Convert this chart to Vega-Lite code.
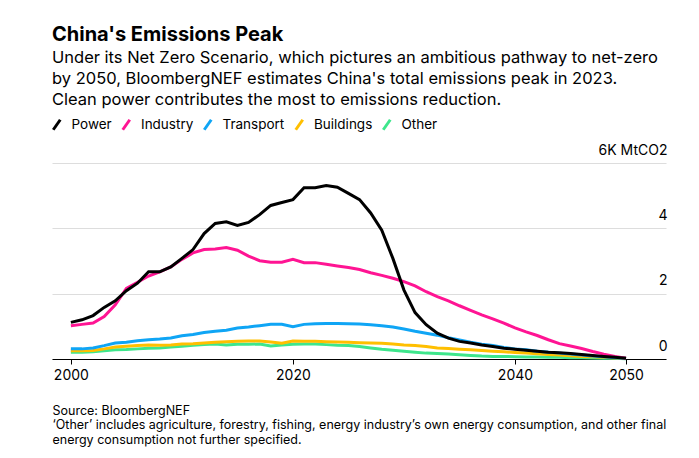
{
  "$schema": "https://vega.github.io/schema/vega-lite/v6.json",
  "width": 614,
  "height": 196,
  "autosize": {"type": "none"},
  "padding": {"left": 52, "top": 163, "right": 33, "bottom": 99},
  "background": "white",
  "config": {
    "font": "Inter",
    "view": {"stroke": null}
  },
  "title": {
    "text": "China's Emissions Peak",
    "subtitle": [
      "Under its Net Zero Scenario, which pictures an ambitious pathway to net-zero",
      "by 2050, BloombergNEF estimates China's total emissions peak in 2023.",
      "Clean power contributes the most to emissions reduction."
    ],
    "anchor": "start",
    "frame": "group",
    "fontSize": 20,
    "fontWeight": "bold",
    "color": "#000",
    "subtitleFontSize": 16.5,
    "subtitleColor": "#000",
    "subtitleLineHeight": 21,
    "subtitlePadding": 5,
    "offset": 10
  },
  "data": {
    "values": [
      {"sector":"Other","year":2000,"value":0.21},{"sector":"Other","year":2001,"value":0.21},{"sector":"Other","year":2002,"value":0.22},{"sector":"Other","year":2003,"value":0.25},{"sector":"Other","year":2004,"value":0.28},{"sector":"Other","year":2005,"value":0.29},{"sector":"Other","year":2006,"value":0.31},{"sector":"Other","year":2007,"value":0.33},{"sector":"Other","year":2008,"value":0.34},{"sector":"Other","year":2009,"value":0.37},{"sector":"Other","year":2010,"value":0.39},{"sector":"Other","year":2011,"value":0.42},{"sector":"Other","year":2012,"value":0.44},{"sector":"Other","year":2013,"value":0.46},{"sector":"Other","year":2014,"value":0.43},{"sector":"Other","year":2015,"value":0.45},{"sector":"Other","year":2016,"value":0.45},{"sector":"Other","year":2017,"value":0.46},{"sector":"Other","year":2018,"value":0.40},{"sector":"Other","year":2019,"value":0.43},{"sector":"Other","year":2020,"value":0.45},{"sector":"Other","year":2021,"value":0.46},{"sector":"Other","year":2022,"value":0.46},{"sector":"Other","year":2023,"value":0.44},{"sector":"Other","year":2024,"value":0.42},{"sector":"Other","year":2025,"value":0.41},{"sector":"Other","year":2026,"value":0.38},{"sector":"Other","year":2027,"value":0.34},{"sector":"Other","year":2028,"value":0.30},{"sector":"Other","year":2029,"value":0.27},{"sector":"Other","year":2030,"value":0.24},{"sector":"Other","year":2031,"value":0.21},{"sector":"Other","year":2032,"value":0.18},{"sector":"Other","year":2033,"value":0.17},{"sector":"Other","year":2034,"value":0.15},{"sector":"Other","year":2035,"value":0.13},{"sector":"Other","year":2036,"value":0.11},{"sector":"Other","year":2037,"value":0.09},{"sector":"Other","year":2038,"value":0.08},{"sector":"Other","year":2039,"value":0.08},{"sector":"Other","year":2040,"value":0.07},{"sector":"Other","year":2041,"value":0.06},{"sector":"Other","year":2042,"value":0.06},{"sector":"Other","year":2043,"value":0.05},{"sector":"Other","year":2044,"value":0.05},{"sector":"Other","year":2045,"value":0.04},{"sector":"Other","year":2046,"value":0.04},{"sector":"Other","year":2047,"value":0.03},{"sector":"Other","year":2048,"value":0.02},{"sector":"Other","year":2049,"value":0.02},{"sector":"Other","year":2050,"value":0.01},
      {"sector":"Buildings","year":2000,"value":0.25},{"sector":"Buildings","year":2001,"value":0.25},{"sector":"Buildings","year":2002,"value":0.26},{"sector":"Buildings","year":2003,"value":0.31},{"sector":"Buildings","year":2004,"value":0.37},{"sector":"Buildings","year":2005,"value":0.39},{"sector":"Buildings","year":2006,"value":0.41},{"sector":"Buildings","year":2007,"value":0.43},{"sector":"Buildings","year":2008,"value":0.42},{"sector":"Buildings","year":2009,"value":0.43},{"sector":"Buildings","year":2010,"value":0.46},{"sector":"Buildings","year":2011,"value":0.47},{"sector":"Buildings","year":2012,"value":0.49},{"sector":"Buildings","year":2013,"value":0.51},{"sector":"Buildings","year":2014,"value":0.53},{"sector":"Buildings","year":2015,"value":0.54},{"sector":"Buildings","year":2016,"value":0.55},{"sector":"Buildings","year":2017,"value":0.55},{"sector":"Buildings","year":2018,"value":0.52},{"sector":"Buildings","year":2019,"value":0.48},{"sector":"Buildings","year":2020,"value":0.55},{"sector":"Buildings","year":2021,"value":0.54},{"sector":"Buildings","year":2022,"value":0.54},{"sector":"Buildings","year":2023,"value":0.53},{"sector":"Buildings","year":2024,"value":0.52},{"sector":"Buildings","year":2025,"value":0.51},{"sector":"Buildings","year":2026,"value":0.50},{"sector":"Buildings","year":2027,"value":0.49},{"sector":"Buildings","year":2028,"value":0.48},{"sector":"Buildings","year":2029,"value":0.46},{"sector":"Buildings","year":2030,"value":0.43},{"sector":"Buildings","year":2031,"value":0.41},{"sector":"Buildings","year":2032,"value":0.38},{"sector":"Buildings","year":2033,"value":0.34},{"sector":"Buildings","year":2034,"value":0.32},{"sector":"Buildings","year":2035,"value":0.30},{"sector":"Buildings","year":2036,"value":0.28},{"sector":"Buildings","year":2037,"value":0.26},{"sector":"Buildings","year":2038,"value":0.24},{"sector":"Buildings","year":2039,"value":0.22},{"sector":"Buildings","year":2040,"value":0.20},{"sector":"Buildings","year":2041,"value":0.18},{"sector":"Buildings","year":2042,"value":0.16},{"sector":"Buildings","year":2043,"value":0.14},{"sector":"Buildings","year":2044,"value":0.12},{"sector":"Buildings","year":2045,"value":0.10},{"sector":"Buildings","year":2046,"value":0.08},{"sector":"Buildings","year":2047,"value":0.07},{"sector":"Buildings","year":2048,"value":0.05},{"sector":"Buildings","year":2049,"value":0.03},{"sector":"Buildings","year":2050,"value":0.02},
      {"sector":"Transport","year":2000,"value":0.31},{"sector":"Transport","year":2001,"value":0.31},{"sector":"Transport","year":2002,"value":0.34},{"sector":"Transport","year":2003,"value":0.41},{"sector":"Transport","year":2004,"value":0.49},{"sector":"Transport","year":2005,"value":0.51},{"sector":"Transport","year":2006,"value":0.56},{"sector":"Transport","year":2007,"value":0.59},{"sector":"Transport","year":2008,"value":0.61},{"sector":"Transport","year":2009,"value":0.64},{"sector":"Transport","year":2010,"value":0.71},{"sector":"Transport","year":2011,"value":0.75},{"sector":"Transport","year":2012,"value":0.81},{"sector":"Transport","year":2013,"value":0.85},{"sector":"Transport","year":2014,"value":0.88},{"sector":"Transport","year":2015,"value":0.95},{"sector":"Transport","year":2016,"value":0.98},{"sector":"Transport","year":2017,"value":1.02},{"sector":"Transport","year":2018,"value":1.06},{"sector":"Transport","year":2019,"value":1.06},{"sector":"Transport","year":2020,"value":0.99},{"sector":"Transport","year":2021,"value":1.06},{"sector":"Transport","year":2022,"value":1.08},{"sector":"Transport","year":2023,"value":1.09},{"sector":"Transport","year":2024,"value":1.09},{"sector":"Transport","year":2025,"value":1.08},{"sector":"Transport","year":2026,"value":1.07},{"sector":"Transport","year":2027,"value":1.05},{"sector":"Transport","year":2028,"value":1.02},{"sector":"Transport","year":2029,"value":0.98},{"sector":"Transport","year":2030,"value":0.92},{"sector":"Transport","year":2031,"value":0.85},{"sector":"Transport","year":2032,"value":0.79},{"sector":"Transport","year":2033,"value":0.73},{"sector":"Transport","year":2034,"value":0.65},{"sector":"Transport","year":2035,"value":0.58},{"sector":"Transport","year":2036,"value":0.51},{"sector":"Transport","year":2037,"value":0.45},{"sector":"Transport","year":2038,"value":0.41},{"sector":"Transport","year":2039,"value":0.35},{"sector":"Transport","year":2040,"value":0.31},{"sector":"Transport","year":2041,"value":0.28},{"sector":"Transport","year":2042,"value":0.24},{"sector":"Transport","year":2043,"value":0.21},{"sector":"Transport","year":2044,"value":0.18},{"sector":"Transport","year":2045,"value":0.15},{"sector":"Transport","year":2046,"value":0.12},{"sector":"Transport","year":2047,"value":0.09},{"sector":"Transport","year":2048,"value":0.07},{"sector":"Transport","year":2049,"value":0.04},{"sector":"Transport","year":2050,"value":0.02},
      {"sector":"Industry","year":2000,"value":1.02},{"sector":"Industry","year":2001,"value":1.06},{"sector":"Industry","year":2002,"value":1.10},{"sector":"Industry","year":2003,"value":1.30},{"sector":"Industry","year":2004,"value":1.66},{"sector":"Industry","year":2005,"value":2.16},{"sector":"Industry","year":2006,"value":2.35},{"sector":"Industry","year":2007,"value":2.54},{"sector":"Industry","year":2008,"value":2.67},{"sector":"Industry","year":2009,"value":2.82},{"sector":"Industry","year":2010,"value":3.05},{"sector":"Industry","year":2011,"value":3.25},{"sector":"Industry","year":2012,"value":3.35},{"sector":"Industry","year":2013,"value":3.37},{"sector":"Industry","year":2014,"value":3.41},{"sector":"Industry","year":2015,"value":3.33},{"sector":"Industry","year":2016,"value":3.15},{"sector":"Industry","year":2017,"value":3.01},{"sector":"Industry","year":2018,"value":2.96},{"sector":"Industry","year":2019,"value":2.96},{"sector":"Industry","year":2020,"value":3.05},{"sector":"Industry","year":2021,"value":2.95},{"sector":"Industry","year":2022,"value":2.95},{"sector":"Industry","year":2023,"value":2.90},{"sector":"Industry","year":2024,"value":2.85},{"sector":"Industry","year":2025,"value":2.80},{"sector":"Industry","year":2026,"value":2.74},{"sector":"Industry","year":2027,"value":2.64},{"sector":"Industry","year":2028,"value":2.56},{"sector":"Industry","year":2029,"value":2.47},{"sector":"Industry","year":2030,"value":2.37},{"sector":"Industry","year":2031,"value":2.24},{"sector":"Industry","year":2032,"value":2.06},{"sector":"Industry","year":2033,"value":1.91},{"sector":"Industry","year":2034,"value":1.78},{"sector":"Industry","year":2035,"value":1.63},{"sector":"Industry","year":2036,"value":1.49},{"sector":"Industry","year":2037,"value":1.35},{"sector":"Industry","year":2038,"value":1.23},{"sector":"Industry","year":2039,"value":1.10},{"sector":"Industry","year":2040,"value":0.95},{"sector":"Industry","year":2041,"value":0.83},{"sector":"Industry","year":2042,"value":0.72},{"sector":"Industry","year":2043,"value":0.59},{"sector":"Industry","year":2044,"value":0.47},{"sector":"Industry","year":2045,"value":0.40},{"sector":"Industry","year":2046,"value":0.32},{"sector":"Industry","year":2047,"value":0.23},{"sector":"Industry","year":2048,"value":0.15},{"sector":"Industry","year":2049,"value":0.08},{"sector":"Industry","year":2050,"value":0.02},
      {"sector":"Power","year":2000,"value":1.12},{"sector":"Power","year":2001,"value":1.20},{"sector":"Power","year":2002,"value":1.33},{"sector":"Power","year":2003,"value":1.58},{"sector":"Power","year":2004,"value":1.78},{"sector":"Power","year":2005,"value":2.09},{"sector":"Power","year":2006,"value":2.32},{"sector":"Power","year":2007,"value":2.67},{"sector":"Power","year":2008,"value":2.67},{"sector":"Power","year":2009,"value":2.82},{"sector":"Power","year":2010,"value":3.08},{"sector":"Power","year":2011,"value":3.35},{"sector":"Power","year":2012,"value":3.84},{"sector":"Power","year":2013,"value":4.15},{"sector":"Power","year":2014,"value":4.20},{"sector":"Power","year":2015,"value":4.09},{"sector":"Power","year":2016,"value":4.18},{"sector":"Power","year":2017,"value":4.42},{"sector":"Power","year":2018,"value":4.70},{"sector":"Power","year":2019,"value":4.79},{"sector":"Power","year":2020,"value":4.88},{"sector":"Power","year":2021,"value":5.24},{"sector":"Power","year":2022,"value":5.24},{"sector":"Power","year":2023,"value":5.31},{"sector":"Power","year":2024,"value":5.26},{"sector":"Power","year":2025,"value":5.07},{"sector":"Power","year":2026,"value":4.88},{"sector":"Power","year":2027,"value":4.47},{"sector":"Power","year":2028,"value":3.94},{"sector":"Power","year":2029,"value":3.08},{"sector":"Power","year":2030,"value":2.11},{"sector":"Power","year":2031,"value":1.42},{"sector":"Power","year":2032,"value":1.05},{"sector":"Power","year":2033,"value":0.79},{"sector":"Power","year":2034,"value":0.64},{"sector":"Power","year":2035,"value":0.54},{"sector":"Power","year":2036,"value":0.49},{"sector":"Power","year":2037,"value":0.43},{"sector":"Power","year":2038,"value":0.38},{"sector":"Power","year":2039,"value":0.33},{"sector":"Power","year":2040,"value":0.30},{"sector":"Power","year":2041,"value":0.27},{"sector":"Power","year":2042,"value":0.24},{"sector":"Power","year":2043,"value":0.21},{"sector":"Power","year":2044,"value":0.19},{"sector":"Power","year":2045,"value":0.17},{"sector":"Power","year":2046,"value":0.14},{"sector":"Power","year":2047,"value":0.11},{"sector":"Power","year":2048,"value":0.08},{"sector":"Power","year":2049,"value":0.05},{"sector":"Power","year":2050,"value":0.02}
    ]
  },
  "mark": {"type": "line", "strokeWidth": 3, "strokeJoin": "miter", "strokeCap": "butt"},
  "encoding": {
    "x": {
      "field": "year",
      "type": "quantitative",
      "scale": {"domain": [1998.3, 2053.6], "nice": false, "zero": false},
      "axis": {
        "values": [2000, 2020, 2040, 2050],
        "format": "d",
        "grid": false,
        "domainColor": "#000",
        "domainWidth": 1,
        "tickColor": "#000",
        "tickSize": 5,
        "tickWidth": 1,
        "labelFontSize": 14,
        "labelColor": "#000",
        "labelPadding": 4,
        "labelFlush": false,
        "title": [
          "Source: BloombergNEF",
          "‘Other’ includes agriculture, forestry, fishing, energy industry’s own energy consumption, and other final",
          "energy consumption not further specified."
        ],
        "titleX": 0,
        "titleY": 55,
        "titleAlign": "left",
        "titleAnchor": "start",
        "titleBaseline": "alphabetic",
        "titleFontSize": 12.5,
        "titleFontWeight": "normal",
        "titleColor": "#000",
        "titleLineHeight": 14.5
      }
    },
    "y": {
      "field": "value",
      "type": "quantitative",
      "scale": {"domain": [0, 6], "nice": false},
      "axis": {
        "orient": "right",
        "values": [0, 2, 4, 6],
        "labelExpr": "datum.value == 6 ? '6K MtCO2' : datum.label",
        "domain": false,
        "ticks": false,
        "tickSize": 0,
        "labelPadding": 1,
        "labelAlign": "right",
        "labelBaseline": "alphabetic",
        "labelOffset": -9,
        "labelFontSize": 14,
        "labelColor": "#000",
        "gridColor": "#dddddd",
        "gridWidth": 1,
        "title": null
      }
    },
    "color": {
      "field": "sector",
      "type": "nominal",
      "scale": {
        "domain": ["Power", "Industry", "Transport", "Buildings", "Other"],
        "range": ["#000000", "#ff1493", "#0fa5f5", "#ffbf00", "#3ee68c"]
      },
      "legend": {
        "orient": "none",
        "legendX": -2,
        "legendY": -45,
        "direction": "horizontal",
        "columns": 5,
        "gridAlign": "none",
        "columnPadding": 4.5,
        "padding": 0,
        "title": null,
        "symbolType": "M-0.7,1L0.7,-1",
        "symbolSize": 100,
        "symbolStrokeWidth": 3,
        "labelFontSize": 13.5,
        "labelColor": "#000",
        "labelOffset": 8
      }
    }
  }
}
